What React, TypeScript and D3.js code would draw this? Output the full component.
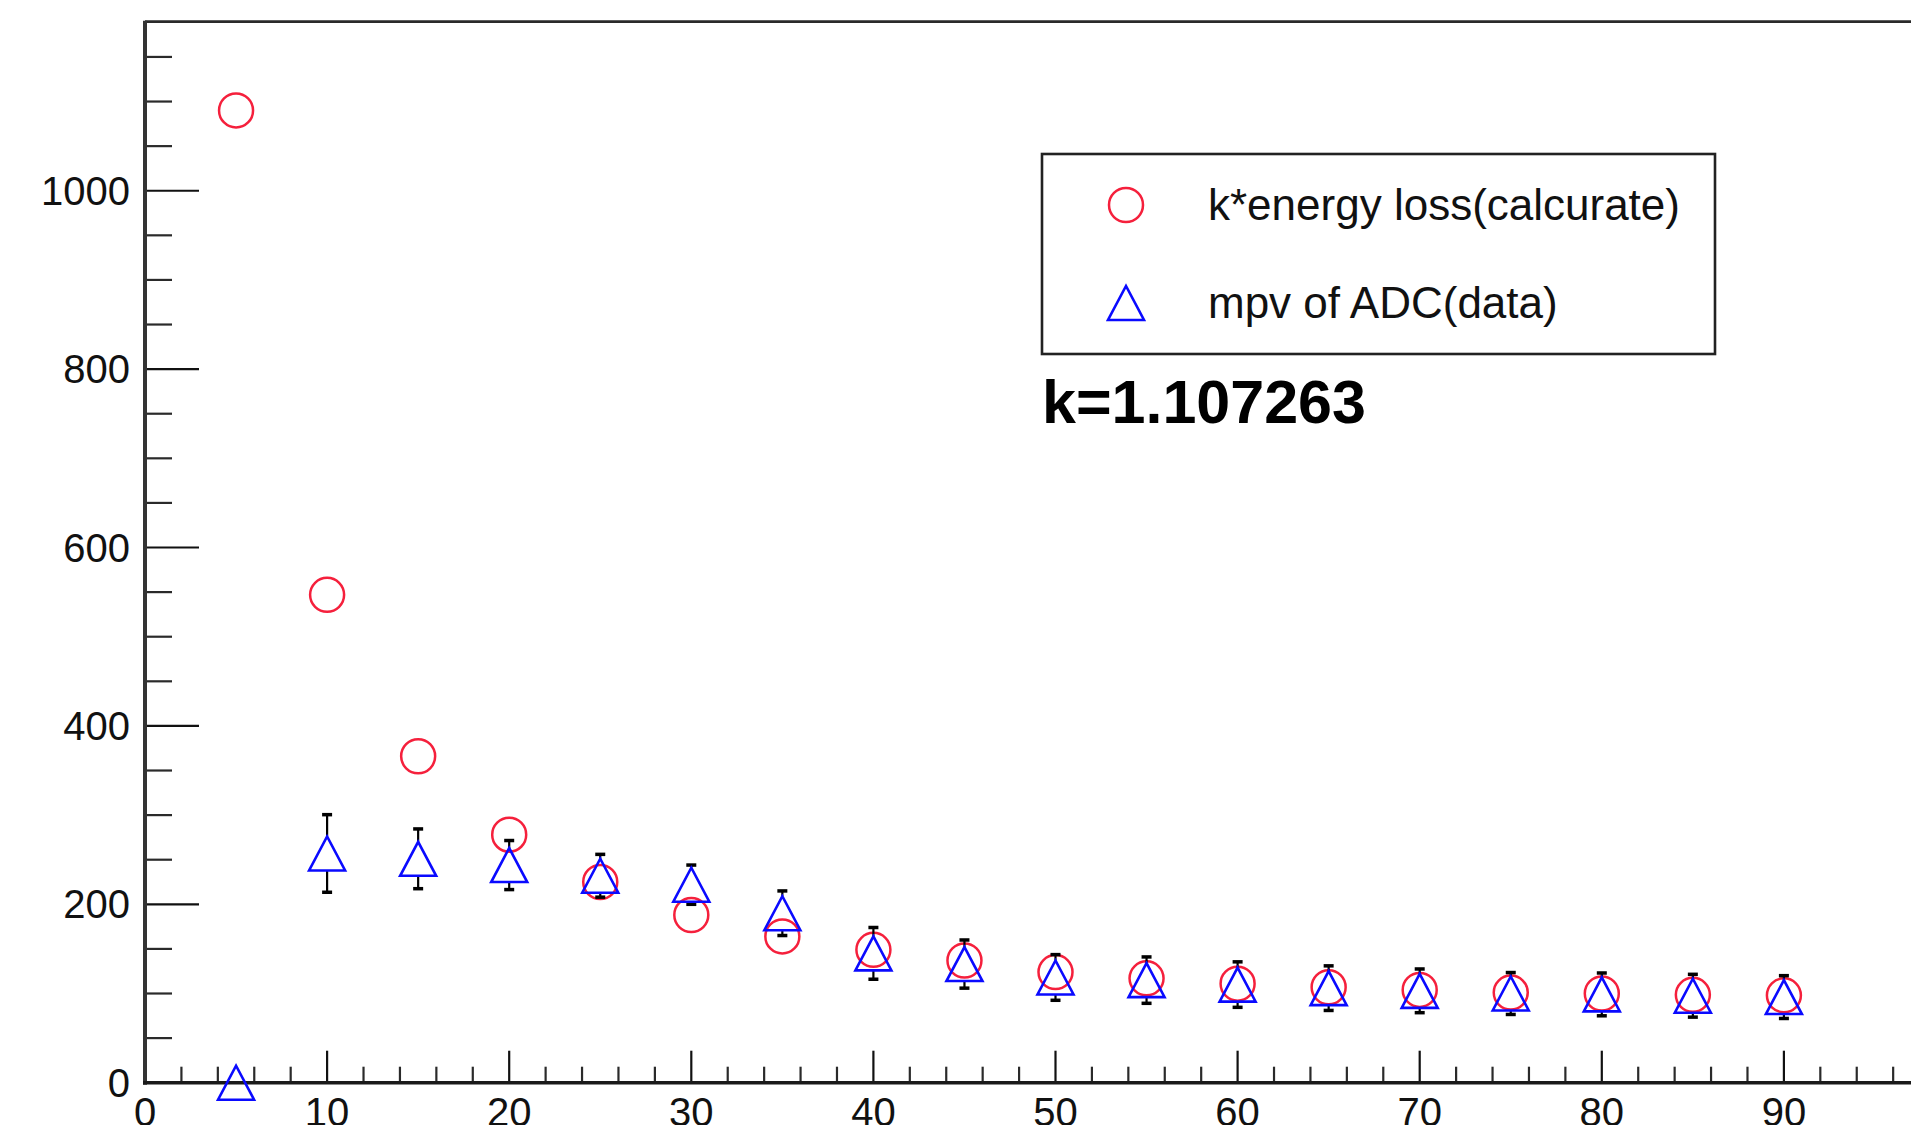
import React from "react";
import * as d3 from "d3";

// Angle steps (x) at which both series were measured
const angles = [5, 10, 15, 20, 25, 30, 35, 40, 45, 50, 55, 60, 65, 70, 75, 80, 85, 90];
// k * calculated energy loss
const energyLossCalc = [1090, 547, 366, 278, 225, 188, 164, 149, 137, 124, 117, 111, 107, 104, 101, 100, 98.5, 98];
// Most probable value of the ADC spectrum and its uncertainty
const mpvAdc = [0, 257, 251, 244, 232, 222, 190, 145, 133, 118, 115, 110, 106, 103, 100, 99, 97.5, 96];
const mpvErr = [0, 43.5, 33.5, 27.5, 24, 22, 25, 29, 27, 25.6, 26, 25.5, 25, 24.5, 23.5, 24, 24, 24];

const xMajorTicks = [0, 10, 20, 30, 40, 50, 60, 70, 80, 90, 100];
const yMajorTicks = [0, 200, 400, 600, 800, 1000];
const legendLabels = ["k*energy loss(calcurate)", "mpv of ADC(data)"];
const kLabel = "k=1.107263";

const W = 1911;
const H = 1125;
const FONT = "'Liberation Sans', Arial, Helvetica, sans-serif";
const RED = "#f5203c";
const BLUE = "#0a0aff";

export default function App() {
  const x = d3.scaleLinear().domain([0, 100]).range([145, 1966]);
  const y = d3.scaleLinear().domain([0, 1189.5]).range([1082.7, 21.7]);

  const xMinor = d3.range(0, 101, 2).filter((v) => v % 10 !== 0);
  const yMinor = d3.range(0, 1189, 50).filter((v) => v % 200 !== 0);

  const left = x(0);
  const bottom = y(0);
  const top = y(1189.5);
  const yTickLen = 54;
  const xTickLen = 32;

  const cr = 17; // circle marker radius
  const tw = 18; // triangle half-width
  const th = 17; // triangle half-height
  const tri = (cx: number, cy: number) =>
    `M${cx - tw},${cy + th}L${cx + tw},${cy + th}L${cx},${cy - th}Z`;

  return (
    <svg
      width={W}
      height={H}
      style={{ position: "absolute", left: 0, top: 0, display: "block", background: "#fff" }}
      fontFamily={FONT}
    >
      <rect x={0} y={0} width={W} height={H} fill="#fff" />

      {/* frame */}
      <line x1={left} x2={W} y1={top} y2={top} stroke="#2a2a2a" strokeWidth={2.8} />

      {/* y axis ticks */}
      {yMinor.map((v) => (
        <line key={"ym" + v} x1={left} x2={left + yTickLen / 2} y1={y(v)} y2={y(v)} stroke="#2a2a2a" strokeWidth={2.2} />
      ))}
      {yMajorTicks.map((v) => (
        <g key={"yM" + v}>
          <line x1={left} x2={left + yTickLen} y1={y(v)} y2={y(v)} stroke="#111" strokeWidth={2.2} />
          <text x={130} y={y(v) + 14} textAnchor="end" fontSize={40} fill="#111">
            {v}
          </text>
        </g>
      ))}

      {/* x axis ticks */}
      {xMinor.map((v) => (
        <line key={"xm" + v} x1={x(v)} x2={x(v)} y1={bottom} y2={bottom - xTickLen / 2} stroke="#2a2a2a" strokeWidth={2.2} />
      ))}
      {xMajorTicks.map((v) => (
        <g key={"xM" + v}>
          <line x1={x(v)} x2={x(v)} y1={bottom} y2={bottom - xTickLen} stroke="#111" strokeWidth={2.2} />
          <text x={x(v)} y={1126} textAnchor="middle" fontSize={40} fill="#111">
            {v}
          </text>
        </g>
      ))}

      {/* axis lines */}
      <line x1={left} x2={left} y1={top - 1} y2={bottom + 2} stroke="#333" strokeWidth={4} />
      <line x1={left - 2} x2={W} y1={bottom} y2={bottom} stroke="#1a1a1a" strokeWidth={3.6} />

      {/* calculated energy loss */}
      {angles.map((a, i) => (
        <circle key={"c" + a} cx={x(a)} cy={y(energyLossCalc[i])} r={cr} fill="none" stroke={RED} strokeWidth={2.5} />
      ))}

      {/* error bars of the measured MPV */}
      {angles.map((a, i) => {
        const cx = x(a);
        const cy = y(mpvAdc[i]);
        const e = mpvErr[i];
        if (!e) return null;
        const yt = y(mpvAdc[i] + e);
        const yb = y(mpvAdc[i] - e);
        return (
          <g key={"e" + a} stroke="#000">
            {yt < cy - th && <line x1={cx} x2={cx} y1={yt} y2={cy - th} strokeWidth={2.2} />}
            {yb > cy + th && <line x1={cx} x2={cx} y1={cy + th} y2={yb} strokeWidth={2.2} />}
            <line x1={cx - 5} x2={cx + 5} y1={yt} y2={yt} strokeWidth={3.5} />
            <line x1={cx - 5} x2={cx + 5} y1={yb} y2={yb} strokeWidth={3.5} />
          </g>
        );
      })}

      {/* measured MPV */}
      {angles.map((a, i) => (
        <path key={"t" + a} d={tri(x(a), y(mpvAdc[i]))} fill="none" stroke={BLUE} strokeWidth={2.6} />
      ))}

      {/* legend */}
      <rect x={1042} y={154} width={673} height={200} fill="#fff" stroke="#222" strokeWidth={2.6} />
      <circle cx={1126} cy={205} r={cr} fill="none" stroke={RED} strokeWidth={2.5} />
      <path d={tri(1126, 303)} fill="none" stroke={BLUE} strokeWidth={2.6} />
      <text x={1208} y={220} fontSize={44} fill="#111">
        {legendLabels[0]}
      </text>
      <text x={1208} y={318} fontSize={44} fill="#111">
        {legendLabels[1]}
      </text>

      <text x={1042} y={423} fontSize={61} fontWeight="bold" fill="#000">
        {kLabel}
      </text>
    </svg>
  );
}
